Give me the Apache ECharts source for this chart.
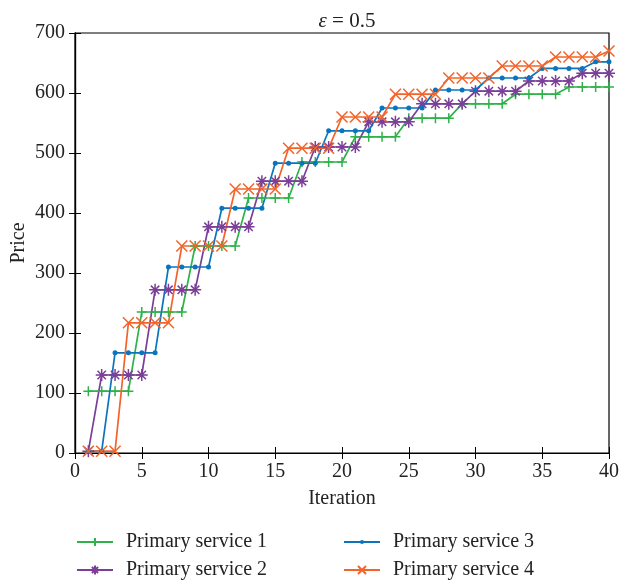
<!DOCTYPE html>
<html><head><meta charset="utf-8">
<script src="https://cdn.jsdelivr.net/npm/echarts@6/dist/echarts.min.js"></script>
<style>html,body{margin:0;padding:0;background:#fff}#c{width:619px;height:582px}</style>
</head><body><div id="c"></div>
<script>
const iterations = Array.from({length:40},(_,i)=>i+1);
const seriesNames = ['Primary service 1','Primary service 2','Primary service 3','Primary service 4'];
const s1 = [103,103,103,103,235,235,235,235,345,345,345,345,425,425,425,425,485,485,485,485,527,527,527,527,558,558,558,558,582,582,582,582,598,598,598,598,610,610,610,610];
const s2 = [3,130,130,130,130,272,272,272,272,377,377,377,377,453,453,453,453,510,510,510,510,552,552,552,552,582,582,582,582,603,603,603,603,620,620,620,620,633,633,633];
const s3 = [3,3,167,167,167,167,310,310,310,310,408,408,408,408,483,483,483,483,537,537,537,537,575,575,575,575,605,605,605,605,625,625,625,625,641,641,641,641,652,652];
const s4 = [3,3,3,217,217,217,217,345,345,345,345,440,440,440,440,508,508,508,508,560,560,560,560,598,598,598,598,625,625,625,625,645,645,645,645,660,660,660,660,670];
const xTicks = [0,5,10,15,20,25,30,35,40];
const yTicks = [0,100,200,300,400,500,600,700];

const colors = ['#2fb24a','#7b3f97','#0b74bd','#f2642a'];
const symbols = [
  'path://M0,5L10,5M5,0L5,10',
  'path://M5,0L5,10M0,5L10,5M1.5,1.5L8.5,8.5M8.5,1.5L1.5,8.5',
  'circle',
  'path://M0,0L10,10M10,0L0,10'
];
const sizes = [10,12,5,11];
const datas = [s1,s2,s3,s4];
const FONT = 'Liberation Serif';

const series = datas.map((d,k)=>({
  name: seriesNames[k], type:'line', xAxisIndex:0, yAxisIndex:0,
  data: d.map((v,i)=>[iterations[i], v]),
  symbol: symbols[k], symbolSize: sizes[k], showAllSymbol:true,
  lineStyle:{color:colors[k], width:1.7},
  itemStyle:{color:colors[k], borderColor:colors[k], borderWidth: k===2?0:1.5},
  emphasis:{disabled:true}, animation:false
}));

const legendPos = [[71,527],[71,555],[338,527],[338,555]];
const legendIconH = [10,11,5,10];
const legends = seriesNames.map((n,k)=>({
  data:[n], left:legendPos[k][0], top:legendPos[k][1], itemWidth:36, itemHeight:legendIconH[k],
  textStyle:{fontFamily:FONT, fontSize:20, color:'#222', padding:[0,0,0,8]}
}));

const chart = echarts.init(document.getElementById('c'));
chart.setOption({
  backgroundColor:'#fff',
  animation:false,
  title:{text:'{i|ε} = 0.5', left:342, textAlign:'center', top:6,
    textStyle:{fontFamily:FONT, fontSize:21, fontWeight:'normal', color:'#222',
      rich:{i:{fontFamily:FONT, fontStyle:'italic', fontSize:21, color:'#222'}}}},
  grid:{left:75, right:10, top:33, bottom:129, show:true, borderColor:'#000', borderWidth:1.2,
        containLabel:false, outerBoundsMode:'none'},
  legend: legends,
  xAxis:[
    {type:'value', min:0, max:40, interval:5, position:'bottom',
     name:'Iteration', nameLocation:'middle', nameGap:36,
     nameTextStyle:{fontFamily:FONT, fontSize:20, color:'#222'},
     axisLine:{show:true, lineStyle:{color:'#000', width:1.2}},
     axisTick:{inside:true, length:6, lineStyle:{color:'#000'}},
     axisLabel:{fontFamily:FONT, fontSize:20, color:'#222', margin:9, formatter:v=>xTicks.includes(v)?String(v):''},
     splitLine:{show:false}},
    {type:'value', min:0, max:40, interval:5, position:'top',
     axisLine:{show:true, lineStyle:{color:'#000', width:1.2}},
     axisTick:{inside:true, length:6, lineStyle:{color:'#000'}},
     axisLabel:{show:false}, splitLine:{show:false}}
  ],
  yAxis:[
    {type:'value', min:0, max:700, interval:100, position:'left',
     name:'Price', nameLocation:'middle', nameGap:46, nameMoveOverlap:false,
     nameTextStyle:{fontFamily:FONT, fontSize:20, color:'#222'},
     axisLine:{show:true, lineStyle:{color:'#000', width:1.2}},
     axisTick:{inside:true, length:6, lineStyle:{color:'#000'}},
     axisLabel:{fontFamily:FONT, fontSize:20, color:'#222', margin:10, formatter:v=>yTicks.includes(v)?String(v):''},
     splitLine:{show:false}},
    {type:'value', min:0, max:700, interval:100, position:'right',
     axisLine:{show:true, lineStyle:{color:'#000', width:1.2}},
     axisTick:{inside:true, length:6, lineStyle:{color:'#000'}},
     axisLabel:{show:false}, splitLine:{show:false}}
  ],
  series: series
});
</script></body></html>
